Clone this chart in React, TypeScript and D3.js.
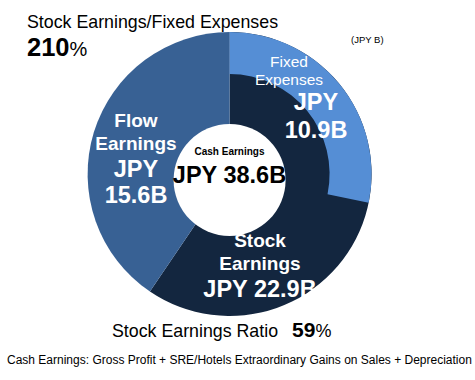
import React from "react";
import * as d3 from "d3";

const segments = ["Flow Earnings", "Stock Earnings"];
const segmentValues = [15.6, 22.9];
const fixedExpenses = 10.9;
const cashEarnings = 38.6;
const stockToFixedPct = 210;
const stockRatioPct = 59;

const W = 475;
const H = 380;
const cx = 229.6;
const cy = 174;
const R = 142;
const ringInner = 100;
const FONT = "'Liberation Sans', Arial, Helvetica, sans-serif";

const colors: Record<string, string> = {
  "Flow Earnings": "#386194",
  "Stock Earnings": "#13263f",
  fixed: "#558ed5",
};

export default function App() {
  const pie = d3
    .pie<number>()
    .sort(null)
    .startAngle(0)
    .endAngle(2 * Math.PI);
  // order: stock first (clockwise from top), then flow
  const order = [1, 0];
  const arcsData = pie(order.map((i) => segmentValues[i]));
  const arc = d3.arc<d3.PieArcDatum<number>>().innerRadius(0).outerRadius(R);

  const fixedAngle = (fixedExpenses / cashEarnings) * 2 * Math.PI;
  const fixedArc = d3.arc()({
    innerRadius: ringInner,
    outerRadius: R,
    startAngle: 0,
    endAngle: fixedAngle,
  } as any) as string;

  return (
    <svg width={W} height={H} style={{ position: "absolute", left: 0, top: 0, background: "#fff" }} fontFamily={FONT}>
      <g transform={`translate(${cx},${cy})`}>
        {arcsData.map((d, k) => (
          <path key={k} d={arc(d) as string} fill={colors[segments[order[k]]]} />
        ))}
        <path d={fixedArc} fill={colors.fixed} />
        <circle cx={0} cy={6} r={56} fill="#fff" />
      </g>

      <text x={27} y={27.5} fontSize={17.8} fill="#000">Stock Earnings/Fixed Expenses</text>
      <text x={27} y={55.5} fill="#000">
        <tspan fontSize={25.5} fontWeight="bold">{stockToFixedPct}</tspan>
        <tspan fontSize={20}>%</tspan>
      </text>
      <text x={351} y={43} fontSize={9.5} fill="#000">(JPY B)</text>

      {/* Fixed expenses label */}
      <g fill="#fff" textAnchor="middle">
        <text x={289} y={67} fontSize={15.5}>Fixed</text>
        <text x={289} y={85} fontSize={15.5}>Expenses</text>
        <text x={316} y={110} fontSize={23.5} fontWeight="bold">JPY</text>
        <text x={316} y={138} fontSize={23.5} fontWeight="bold">{fixedExpenses.toFixed(1)}B</text>
      </g>

      {/* Flow earnings label */}
      <g fill="#fff" textAnchor="middle" fontWeight="bold">
        <text x={136} y={127} fontSize={19}>Flow</text>
        <text x={136} y={150} fontSize={19}>Earnings</text>
        <text x={136} y={177} fontSize={23.5}>JPY</text>
        <text x={136} y={203} fontSize={23.5}>{segmentValues[0].toFixed(1)}B</text>
      </g>

      {/* Stock earnings label */}
      <g fill="#fff" textAnchor="middle" fontWeight="bold">
        <text x={260} y={247} fontSize={19}>Stock</text>
        <text x={260} y={270} fontSize={19}>Earnings</text>
        <text x={260} y={297} fontSize={23.5}>JPY {segmentValues[1].toFixed(1)}B</text>
      </g>

      {/* Center */}
      <g fill="#000" textAnchor="middle" fontWeight="bold">
        <text x={229.5} y={155} fontSize={10}>Cash Earnings</text>
        <text x={229.5} y={183} fontSize={23.5}>JPY {cashEarnings.toFixed(1)}B</text>
      </g>

      <text x={112} y={337} fill="#000">
        <tspan fontSize={17.8}>Stock Earnings Ratio</tspan>
        <tspan fontSize={21} fontWeight="bold" dx={14}>{stockRatioPct}</tspan>
        <tspan fontSize={18}>%</tspan>
      </text>

      <text x={7} y={364} fontSize={12} fill="#000">
        Cash Earnings: Gross Profit + SRE/Hotels Extraordinary Gains on Sales + Depreciation
      </text>
    </svg>
  );
}
